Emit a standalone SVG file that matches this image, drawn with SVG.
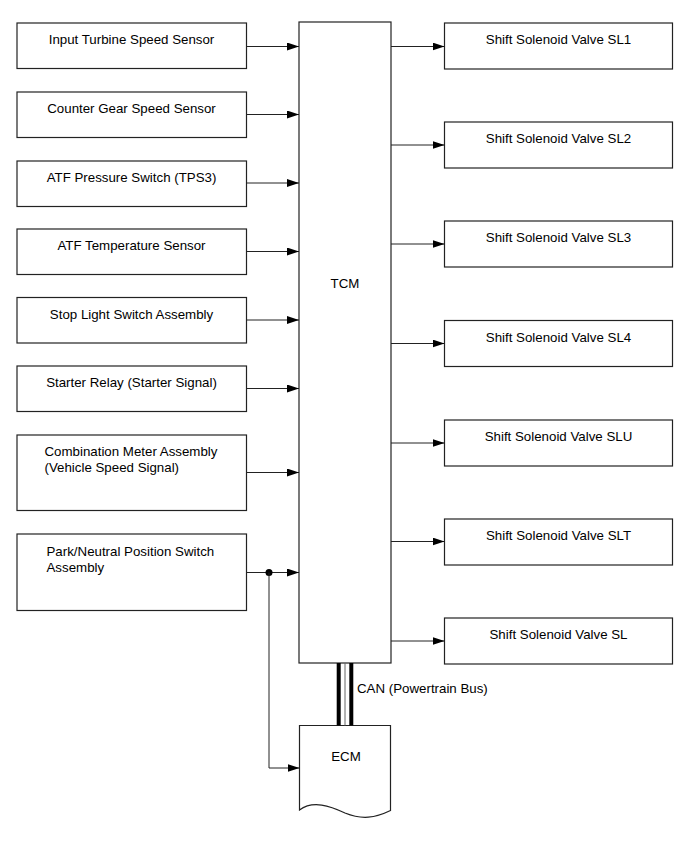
<svg xmlns="http://www.w3.org/2000/svg" width="689" height="853" viewBox="0 0 689 853">
<style>
.box{fill:#fff;stroke:#222;stroke-width:1.2}
.ln{fill:none;stroke:#222;stroke-width:1}
text{font-family:"Liberation Sans",Arial,sans-serif;font-size:13.3px;fill:#000}
.c{text-anchor:middle}
</style>
<defs>
<marker id="ar" markerWidth="12" markerHeight="8" refX="12" refY="4" orient="auto" markerUnits="userSpaceOnUse">
<path d="M0,0 L12,4 L0,8 Z" fill="#000"/>
</marker>
</defs>
<rect width="689" height="853" fill="#fff"/>
<g id="n-its"><rect class="box" x="17" y="23" width="229.5" height="45.5"/><text class="c" x="131.5" y="44">Input Turbine Speed Sensor</text></g>
<g id="n-cgs"><rect class="box" x="17" y="92" width="229.5" height="45.5"/><text class="c" x="131.5" y="113">Counter Gear Speed Sensor</text></g>
<g id="n-tps3"><rect class="box" x="17" y="161" width="229.5" height="45.5"/><text class="c" x="131.5" y="182">ATF Pressure Switch (TPS3)</text></g>
<g id="n-atft"><rect class="box" x="17" y="229" width="229.5" height="45.5"/><text class="c" x="131.5" y="250">ATF Temperature Sensor</text></g>
<g id="n-stop"><rect class="box" x="17" y="297.5" width="229.5" height="45.5"/><text class="c" x="131.5" y="318.5">Stop Light Switch Assembly</text></g>
<g id="n-starter"><rect class="box" x="17" y="366" width="229.5" height="45.5"/><text class="c" x="131.5" y="387">Starter Relay (Starter Signal)</text></g>
<g id="n-combo"><rect class="box" x="17" y="435" width="229.5" height="75.5"/><text x="44.5" y="456">Combination Meter Assembly</text><text x="44.5" y="472">(Vehicle Speed Signal)</text></g>
<g id="n-pnp"><rect class="box" x="17" y="534" width="229.5" height="76.5"/><text x="46.5" y="555.5">Park/Neutral Position Switch</text><text x="46.5" y="571.5">Assembly</text></g>
<g id="n-tcm"><rect class="box" x="299" y="22" width="92" height="641"/><text class="c" x="345" y="288">TCM</text></g>
<g id="n-sl1"><rect class="box" x="444.5" y="23" width="228" height="46"/><text class="c" x="558.5" y="44">Shift Solenoid Valve SL1</text></g>
<g id="n-sl2"><rect class="box" x="444.5" y="122" width="228" height="46"/><text class="c" x="558.5" y="143">Shift Solenoid Valve SL2</text></g>
<g id="n-sl3"><rect class="box" x="444.5" y="221" width="228" height="46"/><text class="c" x="558.5" y="242">Shift Solenoid Valve SL3</text></g>
<g id="n-sl4"><rect class="box" x="444.5" y="320.5" width="228" height="46"/><text class="c" x="558.5" y="341.5">Shift Solenoid Valve SL4</text></g>
<g id="n-slu"><rect class="box" x="444.5" y="420" width="228" height="46"/><text class="c" x="558.5" y="441">Shift Solenoid Valve SLU</text></g>
<g id="n-slt"><rect class="box" x="444.5" y="519" width="228" height="46"/><text class="c" x="558.5" y="540">Shift Solenoid Valve SLT</text></g>
<g id="n-sl"><rect class="box" x="444.5" y="618" width="228" height="46"/><text class="c" x="558.5" y="639">Shift Solenoid Valve SL</text></g>
<g id="n-ecm"><path class="box" d="M299.5,725.5 L390.5,725.5 L390.5,810.5 C375,818 362,820 345,813 C330,806 313,800 299.5,810 Z"/><text class="c" x="346" y="760.5">ECM</text></g>
<g id="connectors">
<path class="ln" marker-end="url(#ar)" d="M246.5,46.5 H299"/>
<path class="ln" marker-end="url(#ar)" d="M246.5,114.5 H299"/>
<path class="ln" marker-end="url(#ar)" d="M246.5,183 H299"/>
<path class="ln" marker-end="url(#ar)" d="M246.5,251.5 H299"/>
<path class="ln" marker-end="url(#ar)" d="M246.5,320 H299"/>
<path class="ln" marker-end="url(#ar)" d="M246.5,388.5 H299"/>
<path class="ln" marker-end="url(#ar)" d="M246.5,472.5 H299"/>
<path class="ln" marker-end="url(#ar)" d="M246.5,572.5 H299"/>
<circle cx="269" cy="572.5" r="3.5" fill="#000"/>
<path class="ln" marker-end="url(#ar)" d="M269,572.5 V768 H299.5"/>
<path class="ln" marker-end="url(#ar)" d="M391,46.5 H444.5"/>
<path class="ln" marker-end="url(#ar)" d="M391,145 H444.5"/>
<path class="ln" marker-end="url(#ar)" d="M391,244 H444.5"/>
<path class="ln" marker-end="url(#ar)" d="M391,343.5 H444.5"/>
<path class="ln" marker-end="url(#ar)" d="M391,443 H444.5"/>
<path class="ln" marker-end="url(#ar)" d="M391,541.5 H444.5"/>
<path class="ln" marker-end="url(#ar)" d="M391,641 H444.5"/>
<g id="can-bus">
<line x1="338.7" y1="663" x2="338.7" y2="725.5" stroke="#000" stroke-width="4"/>
<line x1="345" y1="663" x2="345" y2="725.5" stroke="#666" stroke-width="1"/>
<line x1="351.3" y1="663" x2="351.3" y2="725.5" stroke="#000" stroke-width="4"/>
</g>
<text x="357" y="692.5">CAN (Powertrain Bus)</text>
</g>
</svg>
